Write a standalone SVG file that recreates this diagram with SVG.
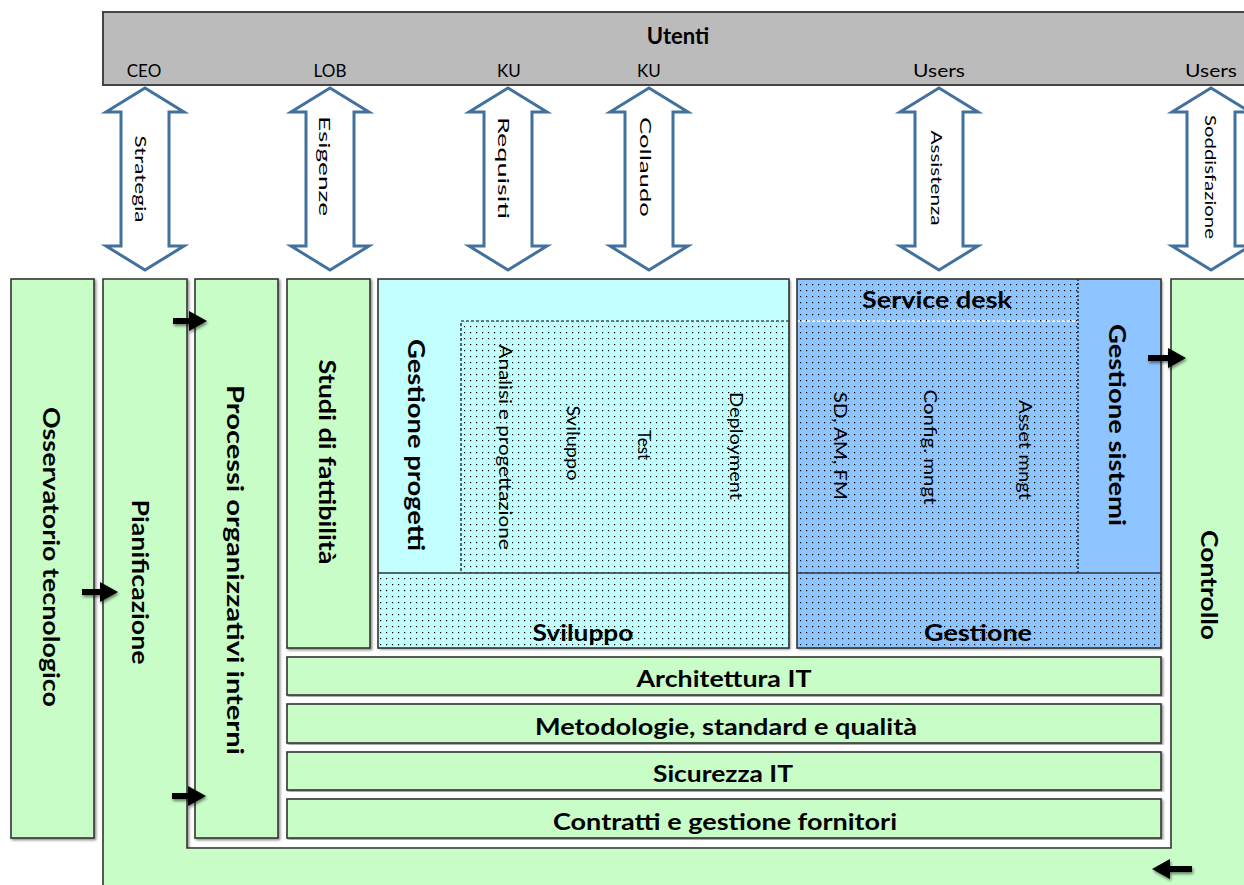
<svg xmlns="http://www.w3.org/2000/svg" width="1244" height="885" viewBox="0 0 1244 885">
<defs>
<style>
.g{fill:#C8FDC8;stroke:#333;stroke-width:1.6}
.t{font-family:Lato,"Open Sans",sans-serif;fill:#000}
.b{font-weight:bold}
.c{text-anchor:middle;dominant-baseline:central}
.da{fill:#fff;stroke:#41719C;stroke-width:3;stroke-linejoin:miter}
.ba{fill:#000}
</style>
<pattern id="dots" width="6" height="6" patternUnits="userSpaceOnUse">
<rect x="2" y="2" width="1.2" height="1.2" fill="#000"/>
</pattern>
<filter id="sh" x="-5%" y="-5%" width="110%" height="110%">
<feDropShadow dx="1.5" dy="1.5" stdDeviation="0.8" flood-color="#000" flood-opacity="0.45"/>
</filter>
<filter id="sh2" x="-20%" y="-40%" width="140%" height="180%">
<feDropShadow dx="1" dy="2" stdDeviation="1.5" flood-color="#000" flood-opacity="0.5"/>
</filter>
</defs>
<rect width="1244" height="885" fill="#fff"/>

<g id="utenti">
<rect x="103" y="12" width="1150" height="73" fill="#BBBBBB" stroke="#444" stroke-width="2"/>
<text class="t b c" x="678" y="35" font-size="22">Utenti</text>
<text class="t c" x="144" y="70" font-size="17">CEO</text>
<text class="t c" x="330" y="70" font-size="17">LOB</text>
<text class="t c" x="509" y="70" font-size="17">KU</text>
<text class="t c" x="649" y="70" font-size="17">KU</text>
<text class="t c" x="939" y="70" font-size="17" textLength="52" lengthAdjust="spacingAndGlyphs">Users</text>
<text class="t c" x="1211" y="70" font-size="17" textLength="52" lengthAdjust="spacingAndGlyphs">Users</text>
</g>

<g id="pianificazione-controllo">
<path class="g" filter="url(#sh)" d="M103,279 H187 V848 H1171 V279 H1250 V895 H103 Z"/>
<text class="t b c" transform="translate(141,582) rotate(90)" font-size="23" textLength="165" lengthAdjust="spacingAndGlyphs">Pianificazione</text>
<text class="t b c" transform="translate(1210,585) rotate(90)" font-size="23" textLength="110" lengthAdjust="spacingAndGlyphs">Controllo</text>
</g>

<g id="osservatorio">
<rect class="g" filter="url(#sh)" x="11" y="279" width="83" height="559"/>
<text class="t b c" transform="translate(51,557) rotate(90)" font-size="22" textLength="300" lengthAdjust="spacingAndGlyphs">Osservatorio tecnologico</text>
</g>

<g id="processi">
<rect class="g" filter="url(#sh)" x="195" y="279" width="83" height="559"/>
<text class="t b c" transform="translate(235,570) rotate(90)" font-size="22" textLength="370" lengthAdjust="spacingAndGlyphs">Processi organizzativi interni</text>
</g>

<g id="studi">
<rect class="g" filter="url(#sh)" x="287" y="279" width="83" height="369"/>
<text class="t b c" transform="translate(327,462) rotate(90)" font-size="22" textLength="205" lengthAdjust="spacingAndGlyphs">Studi di fattibilità</text>
</g>

<g id="sviluppo">
<rect x="378" y="279" width="411" height="369" fill="#C4FFFF" filter="url(#sh)"/>
<rect x="461" y="321" width="328" height="252" fill="url(#dots)"/>
<rect x="378" y="573" width="411" height="75" fill="url(#dots)"/>
<path d="M789,321 H461 V573" fill="none" stroke="#000" stroke-width="1.2" stroke-dasharray="3,2"/>
<line x1="378" y1="573" x2="789" y2="573" stroke="#333" stroke-width="1.6"/>
<rect x="378" y="279" width="411" height="369" fill="none" stroke="#333" stroke-width="1.6"/>
<text class="t b c" transform="translate(416,445) rotate(90)" font-size="22" textLength="212" lengthAdjust="spacingAndGlyphs">Gestione progetti</text>
<text class="t c" transform="translate(505,447) rotate(90)" font-size="17" textLength="205" lengthAdjust="spacingAndGlyphs">Analisi e progettazione</text>
<text class="t c" transform="translate(573,443) rotate(90)" font-size="17" textLength="75" lengthAdjust="spacingAndGlyphs">Sviluppo</text>
<text class="t c" transform="translate(644,445) rotate(90)" font-size="17" textLength="30" lengthAdjust="spacingAndGlyphs">Test</text>
<text class="t c" transform="translate(736,446) rotate(90)" font-size="17" textLength="108" lengthAdjust="spacingAndGlyphs">Deployment</text>
<text class="t b c" x="583" y="632" font-size="22" textLength="101" lengthAdjust="spacingAndGlyphs">Sviluppo</text>
</g>

<g id="gestione">
<rect x="797" y="279" width="364" height="369" fill="#8EC4FF" filter="url(#sh)"/>
<rect x="797" y="279" width="281" height="294" fill="url(#dots)"/>
<rect x="797" y="573" width="364" height="75" fill="url(#dots)"/>
<line x1="797" y1="321" x2="1078" y2="321" stroke="#fff" stroke-width="1.5" stroke-dasharray="3,2"/>
<line x1="1078" y1="279" x2="1078" y2="573" stroke="#000" stroke-width="1.2" stroke-dasharray="2,2"/>
<line x1="797" y1="573" x2="1161" y2="573" stroke="#333" stroke-width="1.6"/>
<rect x="797" y="279" width="364" height="369" fill="none" stroke="#333" stroke-width="1.6"/>
<text class="t b c" x="937" y="299" font-size="22" textLength="150" lengthAdjust="spacingAndGlyphs">Service desk</text>
<text class="t b c" transform="translate(1117,425) rotate(90)" font-size="22" textLength="202" lengthAdjust="spacingAndGlyphs">Gestione sistemi</text>
<text class="t c" transform="translate(840,446) rotate(90)" font-size="17" textLength="108" lengthAdjust="spacingAndGlyphs">SD, AM, FM</text>
<text class="t c" transform="translate(930,447) rotate(90)" font-size="17" textLength="115" lengthAdjust="spacingAndGlyphs">Config. mngt</text>
<text class="t c" transform="translate(1025,450) rotate(90)" font-size="17" textLength="100" lengthAdjust="spacingAndGlyphs">Asset mngt</text>
<text class="t b c" x="978" y="632" font-size="22" textLength="108" lengthAdjust="spacingAndGlyphs">Gestione</text>
</g>

<g id="architettura">
<rect class="g" filter="url(#sh)" x="287" y="657" width="874" height="38"/>
<text class="t b c" x="724" y="678" font-size="22" textLength="175" lengthAdjust="spacingAndGlyphs">Architettura IT</text>
</g>
<g id="metodologie">
<rect class="g" filter="url(#sh)" x="287" y="704" width="874" height="39"/>
<text class="t b c" x="726" y="726" font-size="22" textLength="382" lengthAdjust="spacingAndGlyphs">Metodologie, standard e qualità</text>
</g>
<g id="sicurezza">
<rect class="g" filter="url(#sh)" x="287" y="752" width="874" height="38"/>
<text class="t b c" x="723" y="773" font-size="22" textLength="140" lengthAdjust="spacingAndGlyphs">Sicurezza IT</text>
</g>
<g id="contratti">
<rect class="g" filter="url(#sh)" x="287" y="799" width="874" height="39"/>
<text class="t b c" x="725" y="821" font-size="22" textLength="344" lengthAdjust="spacingAndGlyphs">Contratti e gestione fornitori</text>
</g>

<g id="connectors">
<g id="double-arrows">
<path class="da" d="M145,88 L184,112 L169,112 L169,246 L184,246 L145,270 L106,246 L121,246 L121,112 L106,112 Z"/>
<path class="da" d="M330,88 L369,112 L354,112 L354,246 L369,246 L330,270 L291,246 L306,246 L306,112 L291,112 Z"/>
<path class="da" d="M508,88 L547,112 L532,112 L532,246 L547,246 L508,270 L469,246 L484,246 L484,112 L469,112 Z"/>
<path class="da" d="M649,88 L688,112 L673,112 L673,246 L688,246 L649,270 L610,246 L625,246 L625,112 L610,112 Z"/>
<path class="da" d="M939,88 L978,112 L963,112 L963,246 L978,246 L939,270 L900,246 L915,246 L915,112 L900,112 Z"/>
<path class="da" d="M1211,88 L1250,112 L1235,112 L1235,246 L1250,246 L1211,270 L1172,246 L1187,246 L1187,112 L1172,112 Z"/>
<text class="t c" transform="translate(141,179) rotate(90)" font-size="15" textLength="87" lengthAdjust="spacingAndGlyphs">Strategia</text>
<text class="t c" transform="translate(325,166) rotate(90)" font-size="15" textLength="100" lengthAdjust="spacingAndGlyphs">Esigenze</text>
<text class="t c" transform="translate(504,168) rotate(90)" font-size="15" textLength="102" lengthAdjust="spacingAndGlyphs">Requisiti</text>
<text class="t c" transform="translate(646,167) rotate(90)" font-size="15" textLength="100" lengthAdjust="spacingAndGlyphs">Collaudo</text>
<text class="t c" transform="translate(937,178) rotate(90)" font-size="15" textLength="95" lengthAdjust="spacingAndGlyphs">Assistenza</text>
<text class="t c" transform="translate(1211,177) rotate(90)" font-size="15" textLength="124" lengthAdjust="spacingAndGlyphs">Soddisfazione</text>
</g>
<g id="block-arrows" filter="url(#sh2)">
<path class="ba" d="M173,318 H189 V311 L207,321 L189,331 V324 H173 Z"/>
<path class="ba" d="M82,589 H100 V582 L118,592 L100,602 V595 H82 Z"/>
<path class="ba" d="M172,793 H188 V786 L206,796 L188,806 V799 H172 Z"/>
<path class="ba" d="M1148,355 H1168 V348 L1186,358 L1168,368 V361 H1148 Z"/>
<path class="ba" d="M1192,866 H1170 V859 L1152,869 L1170,879 V872 H1192 Z"/>
</g>
</g>
</svg>
